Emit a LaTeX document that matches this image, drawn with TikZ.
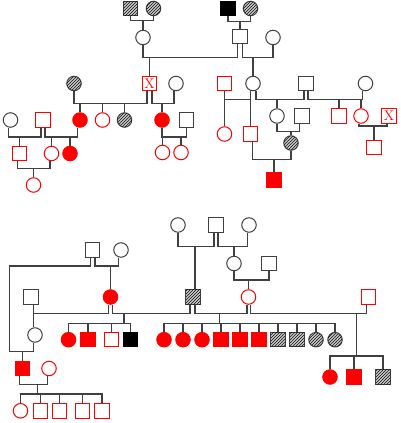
\documentclass[tikz,border=0pt]{standalone}
\usepackage{tikz}
\usetikzlibrary{patterns}
\definecolor{lin}{HTML}{404040}

\begin{document}
\begin{tikzpicture}[x=1pt, y=-1pt,
    male/.style={rectangle, draw=lin, line width=1pt, fill=white, minimum size=14.5pt, inner sep=0pt},
    female/.style={circle, draw=lin, line width=1pt, fill=white, minimum size=14.5pt, inner sep=0pt},
    red open/.style={draw=red},
    red fill/.style={draw=red, fill=red},
    black fill/.style={draw=black, fill=black},
    hatched/.style={fill=gray!45, postaction={pattern=north east lines, pattern color=gray!15!black}},
    crossed/.style={draw=red, text=red, font=\fontsize{14}{14}\selectfont},
    link/.style={draw=lin, line width=1.1pt}]
                \useasboundingbox (0,0) rectangle (400,423);

                % Top left grandparents
                \node[male, hatched] (a1) at (130.5,8.5) {};
                \node[female, hatched] (a2) at (153.5,8.5) {};
                \node[female] (a3) at (143,37.5) {};
                \coordinate (ma) at (143,20.5);
                \draw[link] (a1.south) |- (ma) -| (a2.south);
                \draw[link] (ma) -- (a3.north);

                % Top right grandparents
                \node[male, black fill] (b1) at (228,8.5) {};
                \node[female, hatched] (b2) at (250.5,8.5) {};
                \node[male] (b3) at (240,36.5) {};
                \node[female] (b4) at (273,37.5) {};
                \coordinate (mb) at (240,21.5);
                \draw[link] (b1.south) |- (mb) -| (b2.south);
                \draw[link] (mb) -- (b3.north);

                % Their children
                \node[male, crossed] (c1) at (149.5,83.5) {X};
                \node[female] (p1) at (253,83.5) {};
                \coordinate (mc) at (149.5,57.5);
                \coordinate (md) at (253,57.5);
                \draw[link] (a3.south) |- (mc) -| ([xshift=-2.5pt]b3.south);
                \draw[link] ([xshift=2.5pt]b3.south) |- (md) -| (b4.south);
                \draw[link] (mc) -- (c1.north);
                \draw[link] (md) -- (p1.north);

                % Left branch
                \node[female, hatched] (c2) at (74,83.5) {};
                \node[female] (c3) at (176,83.5) {};
                \node[female, red fill] (k1) at (80,120) {};
                \node[female, red open] (k2) at (102.5,120) {};
                \node[female, hatched] (k3) at (124.5,120) {};
                \coordinate (me) at (124.5,103.5);
                \draw[link] ([xshift=-2.5pt]c1.south) |- (me) -| (c2.south);
                \draw[link] (me) -| (k1.north) (me) -| (k2.north) (me) -| (k3.north);

                \node[female, red fill] (n1) at (162,120) {};
                \node[male] (n2) at (186.5,120) {};
                \coordinate (mf) at (162,103.5);
                \draw[link] ([xshift=2.5pt]c1.south) |- (mf) -| ([xshift=-2pt]c3.south);
                \draw[link] (mf) -- (n1.north);
                \node[female, red open] (n3) at (162.5,152.5) {};
                \node[female, red open] (n4) at (181,152.5) {};
                \coordinate (mg) at (171.5,137);
                \draw[link] (n1.south) |- (mg) -| (n2.south);
                \draw[link] (mg) -| (n3.north) (mg) -| (n4.north);

                % Far left
                \node[female] (q1) at (10.5,120) {};
                \node[male, red open] (q2) at (43,120) {};
                \node[male, red open] (q3) at (19.5,153.5) {};
                \coordinate (mh) at (19.5,137);
                \draw[link] ([xshift=-2pt]q2.south) |- (mh) -| ([xshift=-2pt]q1.south);
                \draw[link] (mh) -- (q3.north);
                \node[female, red open] (q4) at (51.5,153.5) {};
                \node[female, red fill] (q5) at (70,153.5) {};
                \coordinate (mi) at (61,137);
                \draw[link] ([xshift=2pt]q2.south) |- (mi) -| ([xshift=-2.5pt]k1.south);
                \draw[link] (mi) -| (q4.north) (mi) -| (q5.north);
                \node[female, red open] (q6) at (33.5,185) {};
                \coordinate (mj) at (33.5,168.5);
                \draw[link] ([xshift=-2pt]q3.south) |- (mj) -| ([xshift=-1.5pt]q4.south);
                \draw[link] (mj) -- (q6.north);

                % Right branch
                \node[male, red open] (p2) at (224.5,83.5) {};
                \node[male] (p3) at (306,83.5) {};
                \node[female] (p4) at (365.5,83.5) {};
                \node[female, red open] (p5) at (224.5,134) {};
                \node[male, red open] (p6) at (250.5,134) {};
                \coordinate (ml) at (236,99.5);
                \draw[link] ([xshift=-2.5pt]p1.south) |- (ml) -| (p2.south);
                \draw[link] (ml) -| (p5.north) (ml) -| (p6.north);

                \node[female] (p7) at (277,116) {};
                \coordinate (mm) at (277,99.5);
                \draw[link] ([xshift=3pt]p1.south) |- (mm) -| ([xshift=-2pt]p3.south);
                \draw[link] (mm) -- (p7.north);

                \node[male, red open] (p8) at (339,116) {};
                \node[female, red open] (p9) at (361,116) {};
                \coordinate (mn) at (350,99.5);
                \draw[link] ([xshift=2pt]p3.south) |- (mn) -| ([xshift=-3pt]p4.south);
                \draw[link] (mn) -| (p8.north) (mn) -| (p9.north);

                \node[male] (p10) at (302,116) {};
                \node[female, hatched] (p11) at (291,143) {};
                \coordinate (mo) at (291,131.5);
                \draw[link] (p7.south) |- (mo) -| ([xshift=-2.5pt]p10.south);
                \draw[link] (mo) -- (p11.north);

                \node[male, red fill] (p12) at (274,180) {};
                \coordinate (mp) at (274,159.5);
                \draw[link] ([xshift=2pt]p6.south) |- (mp) -| (p11.south);
                \draw[link] (mp) -- (p12.north);

                \node[male, crossed] (p13) at (389,116) {X};
                \node[male, red open] (p14) at (374,147.5) {};
                \coordinate (mq) at (374,126);
                \draw[link] ([xshift=-2pt]p9.south) |- (mq) -| ([xshift=-2pt]p13.south);
                \draw[link] (mq) -- (p14.north);

                % Lower pedigree, left
                \node[male] (r1) at (92.5,250) {};
                \node[female] (r2) at (121,250) {};
                \node[female, red fill] (r3) at (110.5,297) {};
                \coordinate (mr) at (110.5,266);
                \draw[link] ([xshift=2.5pt]r1.south) |- (mr) -| ([xshift=-2.5pt]r2.south);
                \draw[link] (mr) -- (r3.north);

                \node[female] (r4) at (35,335) {};
                \node[male, red fill] (r5) at (22.5,368.5) {};
                \coordinate (bend) at (9.5,266);
                \coordinate (ms) at (22.5,351.5);
                \draw[link] ([xshift=-2pt]r1.south) |- (bend) |- (ms) -| ([xshift=-1.5pt]r4.south);
                \draw[link] (ms) -- (r5.north);

                \node[male] (r6) at (31,297) {};
                \coordinate (mt) at (33.5,313.5);
                \draw[link] (r6.south -| mt) -- (r4.north -| mt);
                \draw[link] (mt) -| ([xshift=-2pt]r3.south);

                % Lower pedigree, middle
                \node[female] (u1) at (178,225) {};
                \node[male] (u2) at (216,225) {};
                \node[female] (u3) at (249,225) {};
                \node[male, hatched] (r7) at (193,297) {};
                \coordinate (mv) at (195,246.7);
                \draw[link] (u1.south) |- (mv) -| ([xshift=-2pt]u2.south);
                \draw[link] ([xshift=2pt]r7.north) |- (mv);
                \node[female] (u4) at (234,263.5) {};
                \node[male] (u5) at (269,263.5) {};
                \coordinate (mw) at (234,246.7);
                \draw[link] ([xshift=2pt]u2.south) |- (mw) -| ([xshift=-1.5pt]u3.south);
                \draw[link] (mw) -- (u4.north);
                \node[female, red open] (u6) at (248.5,297) {};
                \coordinate (mx) at (248.5,280);
                \draw[link] (u4.south) |- (mx) -| (u5.south);
                \draw[link] (mx) -- (u6.north);

                % r3 + r7 and their children
                \node[female, red fill] (t1) at (68.5,339.7) {};
                \node[male, red fill] (t2) at (88,339.7) {};
                \node[male, red open] (t3) at (111.5,339.7) {};
                \node[male, black fill] (t4) at (130.5,339.7) {};
                \coordinate (mu) at (124,313.5);
                \coordinate (su) at (124,323.3);
                \draw[link] ([xshift=2pt]r3.south) |- (mu) -| ([xshift=-3pt]r7.south);
                \draw[link] (mu) -- (su);
                \draw[link] (su) -| (t1.north) (su) -| (t2.north) (su) -| (t3.north) (su) -| (t4.north);

                % r7 + u6 and their children
                \node[female, red fill] (v1) at (164,339.7) {};
                \node[female, red fill] (v2) at (183,339.7) {};
                \node[female, red fill] (v3) at (202,339.7) {};
                \node[male, red fill] (v4) at (221,339.7) {};
                \node[male, red fill] (v5) at (240,339.7) {};
                \node[male, red fill] (v6) at (259,339.7) {};
                \node[male, hatched] (v7) at (278,339.7) {};
                \node[male, hatched] (v8) at (297,339.7) {};
                \node[female, hatched] (v9) at (316,339.7) {};
                \node[female, hatched] (v10) at (335,339.7) {};
                \coordinate (my) at (219.5,313.5);
                \coordinate (sy) at (219.5,323.3);
                \draw[link] ([xshift=2pt]r7.south) |- (my) -| ([xshift=-1.5pt]u6.south);
                \draw[link] (my) -- (sy);
                \draw[link] (sy) -| (v1.north) (sy) -| (v2.north) (sy) -| (v3.north) (sy) -| (v4.north)
                    (sy) -| (v5.north) (sy) -| (v6.north) (sy) -| (v7.north) (sy) -| (v8.north)
                    (sy) -| (v9.north) (sy) -| (v10.north);

                % u6 + w1 and their children
                \node[male, red open] (w1) at (368.5,297) {};
                \node[female, red fill] (w2) at (330,377) {};
                \node[male, red fill] (w3) at (354,377) {};
                \node[male, hatched] (w4) at (383,377) {};
                \coordinate (mz) at (356.5,313.5);
                \coordinate (sz) at (356.5,356);
                \draw[link] ([xshift=2pt]u6.south) |- (mz) -| ([xshift=-2pt]w1.south);
                \draw[link] (mz) -- (sz);
                \draw[link] (sz) -| (w2.north) (sz) -| (w3.north) (sz) -| (w4.north);

                % r5 + x1 and their children
                \node[female, red open] (x1) at (49,368.5) {};
                \node[female, red open] (y1) at (20.5,410.8) {};
                \node[male, red open] (y2) at (40.5,410.8) {};
                \node[male, red open] (y3) at (59.5,410.8) {};
                \node[male, red open] (y4) at (82.5,410.8) {};
                \node[male, red open] (y5) at (102,410.8) {};
                \coordinate (m1) at (37.5,384.3);
                \coordinate (s1) at (37.5,394);
                \draw[link] ([xshift=-3pt]r5.south) |- (m1) -| ([xshift=-1.5pt]x1.south);
                \draw[link] (m1) -- (s1);
                \draw[link] (s1) -| (y1.north) (s1) -| (y2.north) (s1) -| (y3.north) (s1) -| (y4.north) (s1) -| (y5.north);
            \end{tikzpicture}
\end{document}
